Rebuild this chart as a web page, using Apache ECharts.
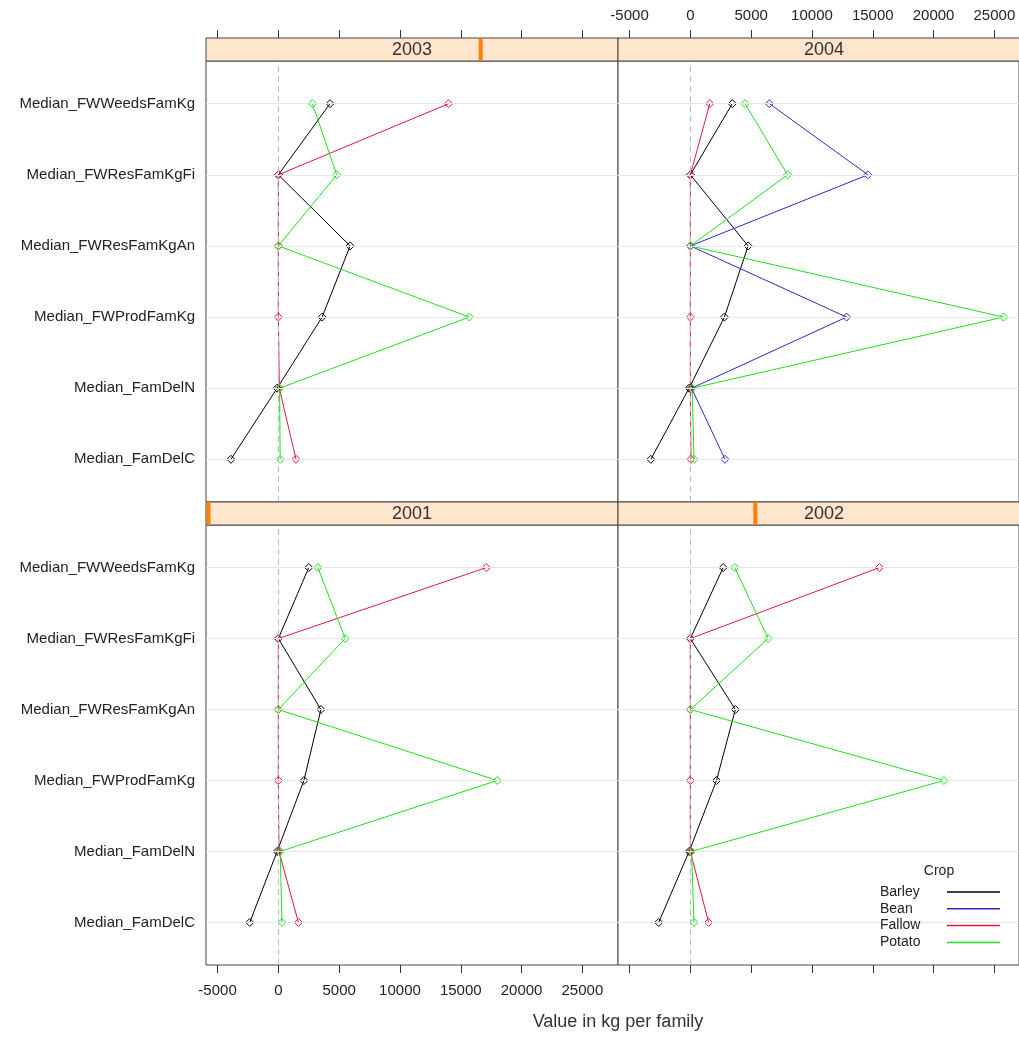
<!DOCTYPE html>
<html>
<head>
<meta charset="utf-8">
<title>Median values per family by crop and year</title>
<script src="https://cdn.jsdelivr.net/npm/echarts@6/dist/echarts.min.js"></script>
<style>
  html, body { margin: 0; padding: 0; background: #fff; }
  #chart { width: 1019px; height: 1037px; }
</style>
</head>
<body>
<div id="chart"></div>
<script>
// Row labels, bottom to top
const measures = ['Median_FamDelC', 'Median_FamDelN', 'Median_FWProdFamKg',
                  'Median_FWResFamKgAn', 'Median_FWResFamKgFi', 'Median_FWWeedsFamKg'];
const years = ['2001', '2002', '2003', '2004'];
const crops = ['Barley', 'Bean', 'Fallow', 'Potato'];
const xTicks = [-5000, 0, 5000, 10000, 15000, 20000, 25000];

// Values in kg per family, one entry per measure (same order as `measures`)
const barley2001 = [-2350, -100, 2100, 3500, 0, 2500];
const fallow2001 = [1650, 50, 0, 0, 0, 17100];
const potato2001 = [300, 150, 18000, 0, 5500, 3250];

const barley2002 = [-2600, -100, 2150, 3700, 0, 2700];
const fallow2002 = [1500, 0, 0, 0, 0, 15550];
const potato2002 = [300, 100, 20850, 0, 6400, 3650];

const barley2003 = [-3900, -100, 3600, 5900, 0, 4250];
const fallow2003 = [1450, 80, 0, 0, 0, 14000];
const potato2003 = [150, 100, 15700, 0, 4800, 2800];

const barley2004 = [-3250, -100, 2800, 4750, 0, 3450];
const bean2004   = [2850, 100, 12850, 0, 14600, 6500];
const fallow2004 = [50, 0, 0, 0, 0, 1600];
const potato2004 = [300, 150, 25750, 0, 8000, 4500];

const cropColors = { Barley: '#000000', Bean: '#2a2ac8', Fallow: '#e3173e', Potato: '#22dd22' };

// Shared x range of a full panel; right-hand panels run past the page edge,
// so their visible part is cut at the page width with the matching maximum.
const xMin = -5950, xMax = 27930;
const panelW = 412, stripH = 23, pageW = 1019;
const unitsPerPx = (xMax - xMin) / panelW;

// Panel layout: 2001 bottom-left, 2002 bottom-right, 2003 top-left, 2004 top-right
const panels = [
  { year: '2001', left: 206, top: 525, height: 440, bottomRow: true,  leftCol: true,
    values: { Barley: barley2001, Fallow: fallow2001, Potato: potato2001 } },
  { year: '2002', left: 618, top: 525, height: 440, bottomRow: true,  leftCol: false,
    values: { Barley: barley2002, Fallow: fallow2002, Potato: potato2002 } },
  { year: '2003', left: 206, top: 61,  height: 441, bottomRow: false, leftCol: true,
    values: { Barley: barley2003, Fallow: fallow2003, Potato: potato2003 } },
  { year: '2004', left: 618, top: 61,  height: 441, bottomRow: false, leftCol: false,
    values: { Barley: barley2004, Bean: bean2004, Fallow: fallow2004, Potato: potato2004 } }
];

const FONT = 'Liberation Sans, Arial, Helvetica, sans-serif';
const rowValues = measures.map((m, i) => i + 1);

const grid = [], xAxis = [], yAxis = [], series = [], graphic = [];

panels.forEach((p, gi) => {
  const visW = Math.min(panelW, pageW - p.left);
  const visMax = xMin + visW * unitsPerPx;

  grid.push({
    left: p.left, top: p.top, width: visW, height: p.height,
    show: true, backgroundColor: '#ffffff', borderColor: '#444', borderWidth: 1
  });

  const showXLabels = (p.bottomRow && p.leftCol) || (!p.bottomRow && !p.leftCol);
  xAxis.push({
    type: 'value', gridIndex: gi, min: xMin, max: visMax,
    position: p.bottomRow ? 'bottom' : 'top',
    offset: p.bottomRow ? 0 : stripH,
    axisLine: { show: false },
    splitLine: { show: false },
    axisTick: { show: true, inside: false, length: 8, customValues: xTicks,
                lineStyle: { color: '#333', width: 1 } },
    axisLabel: { show: showXLabels, customValues: xTicks, fontSize: 15, color: '#222',
                 fontFamily: FONT, margin: p.bottomRow ? 18 : 15,
                 formatter: v => String(v) }
  });

  yAxis.push({
    type: 'value', gridIndex: gi, min: 0.4, max: 6.6,
    axisLine: { show: false },
    splitLine: { show: false },
    axisTick: { show: p.leftCol, length: 4, customValues: rowValues,
                lineStyle: { color: '#d8d8d8' } },
    axisLabel: { show: p.leftCol, customValues: rowValues, fontSize: 15, color: '#222',
                 fontFamily: FONT, margin: 11,
                 formatter: v => measures[Math.round(v) - 1] }
  });

  // light reference lines at each measure row
  series.push({
    type: 'line', name: 'rows' + p.year, xAxisIndex: gi, yAxisIndex: gi, data: [], z: 1,
    silent: true,
    markLine: {
      silent: true, symbol: 'none', label: { show: false }, animation: false,
      lineStyle: { color: '#e6e6e6', type: 'solid', width: 1 },
      data: rowValues.map(v => ({ yAxis: v }))
    }
  });

  crops.forEach(c => {
    const vals = p.values[c];
    if (!vals) return;
    series.push({
      type: 'line', name: c, xAxisIndex: gi, yAxisIndex: gi, z: 2,
      data: vals.map((v, i) => [v, i + 1]),
      symbol: 'diamond', symbolSize: 8, showSymbol: true,
      lineStyle: { color: cropColors[c], width: 1 },
      itemStyle: { color: 'rgba(0,0,0,0)', borderColor: cropColors[c], borderWidth: 1 },
      emphasis: { disabled: true }, silent: true
    });
  });

  // dashed zero line drawn above the data
  series.push({
    type: 'line', name: 'zero' + p.year, xAxisIndex: gi, yAxisIndex: gi, data: [], z: 3,
    silent: true,
    markLine: {
      silent: true, symbol: 'none', label: { show: false }, animation: false,
      lineStyle: { color: '#bdbdbd', type: [6, 4], width: 1 },
      data: [{ xAxis: 0 }]
    }
  });

  // strip with the year and a level marker
  const stripTop = p.top - stripH;
  graphic.push({
    type: 'rect', silent: true, z: 10,
    shape: { x: p.left, y: stripTop, width: panelW, height: stripH },
    style: { fill: '#ffe5cc', stroke: '#444', lineWidth: 1 }
  });
  const yi = years.indexOf(p.year);
  const barX = Math.max(p.left + 0.5, p.left + panelW * yi / (years.length - 1) - 2);
  graphic.push({
    type: 'rect', silent: true, z: 11,
    shape: { x: barX, y: stripTop + 0.5, width: 4, height: stripH - 1 },
    style: { fill: '#ff8000' }
  });
  graphic.push({
    type: 'text', silent: true, z: 12,
    x: p.left + panelW / 2, y: stripTop + stripH / 2 + 1,
    style: { text: p.year, fontSize: 18, fontFamily: FONT, fill: '#333',
             align: 'center', verticalAlign: 'middle' }
  });
});

// axis title and legend title
graphic.push({
  type: 'text', silent: true, x: 618, y: 1022,
  style: { text: 'Value in kg per family', fontSize: 18, fontFamily: FONT, fill: '#333',
           align: 'center', verticalAlign: 'middle' }
});
graphic.push({
  type: 'text', silent: true, z: 20, x: 939, y: 871,
  style: { text: 'Crop', fontSize: 14, fontFamily: FONT, fill: '#222',
           align: 'center', verticalAlign: 'middle' }
});

const chart = echarts.init(document.getElementById('chart'), null, { renderer: 'canvas' });
chart.setOption({
  animation: false,
  backgroundColor: '#ffffff',
  textStyle: { fontFamily: FONT },
  grid, xAxis, yAxis, series, graphic,
  legend: {
    orient: 'vertical', left: 880, top: 885, padding: 0, itemGap: 2.8,
    align: 'right', icon: 'rect', itemWidth: 53, itemHeight: 1.5,
    selectedMode: false, z: 20,
    formatter: name => '{a|' + name + '}',
    textStyle: { fontSize: 14, color: '#222', fontFamily: FONT,
                 rich: { a: { width: 62, align: 'left', fontSize: 14, fontFamily: FONT, color: '#222' } } },
    data: crops.map(c => ({ name: c, itemStyle: { color: cropColors[c], borderWidth: 0 } }))
  }
});
</script>
</body>
</html>
